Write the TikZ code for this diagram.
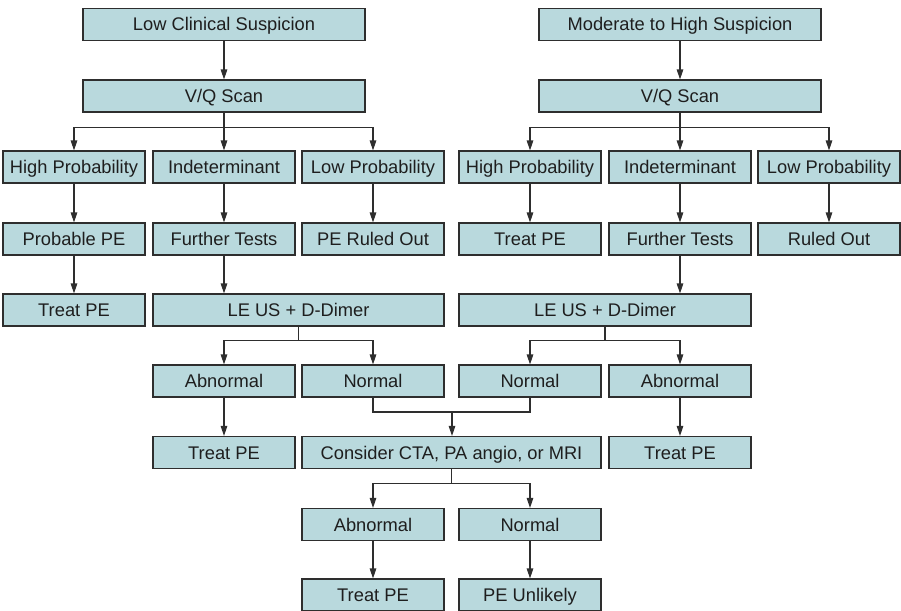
\documentclass[tikz,border=0pt]{standalone}
\usepackage{fontspec}
\setmainfont{Liberation Sans}
\usetikzlibrary{arrows.meta}

\definecolor{boxfill}{HTML}{B9D9DD}
\definecolor{boxline}{HTML}{2E2E2E}
\definecolor{txt}{HTML}{1E1E1E}

\tikzset{
    box/.style={draw=boxline, fill=boxfill, line width=1.1pt, inner sep=0pt,
        minimum height=32pt, minimum width=142pt, text=txt,
        text height=16pt, text depth=3pt,
        font=\fontsize{18.3}{21}\selectfont},
    wbox/.style={box, minimum width=#1},
    arr/.style={draw=boxline, line width=1.1pt, -{Triangle[length=10pt,width=6.5pt]}},
    ln/.style={draw=boxline, line width=1.1pt}
}

\begin{document}
\begin{tikzpicture}[x=1pt, y=-1pt]
        \useasboundingbox (0,0) rectangle (901,610);

        % left tree
        \node[wbox=282pt] (lowsus) at (224,24.5) {Low Clinical Suspicion};
        \node[wbox=282pt] (vqL) at (224,96) {V/Q Scan};
        \node[box] (hpL) at (74,167) {High Probability};
        \node[box] (indL) at (224,167) {Indeterminant};
        \node[box] (lpL) at (373,167) {Low Probability};
        \node[box] (probpe) at (74,239) {Probable PE};
        \node[box] (ftL) at (224,239) {Further Tests};
        \node[box] (roL) at (373,239) {PE Ruled Out};
        \node[box] (treatA) at (74,310) {Treat PE};
        \node[wbox=291pt] (leusL) at (298.5,310) {LE US + D-Dimer};
        \node[box] (abL) at (224,381) {Abnormal};
        \node[box] (nL) at (373,381) {Normal};
        \node[box] (treatB) at (224,452.5) {Treat PE};

        % right tree
        \node[wbox=282pt] (modsus) at (680,24.5) {Moderate to High Suspicion};
        \node[wbox=282pt] (vqR) at (680,96) {V/Q Scan};
        \node[box] (hpR) at (530,167) {High Probability};
        \node[box] (indR) at (680,167) {Indeterminant};
        \node[box] (lpR) at (829,167) {Low Probability};
        \node[box] (treatC) at (530,239) {Treat PE};
        \node[box] (ftR) at (680,239) {Further Tests};
        \node[box] (roR) at (829,239) {Ruled Out};
        \node[wbox=292pt] (leusR) at (605,310) {LE US + D-Dimer};
        \node[box] (nR) at (530,381) {Normal};
        \node[box] (abR) at (680,381) {Abnormal};
        \node[box] (treatD) at (680,452.5) {Treat PE};

        % common end
        \node[wbox=299pt] (cta) at (451.5,452.5) {Consider CTA, PA angio, or MRI};
        \node[box] (abC) at (373,524.5) {Abnormal};
        \node[box] (nC) at (530,524.5) {Normal};
        \node[box] (treatE) at (373,595) {Treat PE};
        \node[box] (unlikely) at (530,595) {PE Unlikely};

        \draw[arr] (lowsus) -- (vqL);
        \draw[arr] (vqL.south) -- ++(0,15) -| (hpL.north);
        \draw[arr] (vqL.south) -- (indL.north);
        \draw[arr] (vqL.south) -- ++(0,15) -| (lpL.north);
        \draw[arr] (hpL) -- (probpe);
        \draw[arr] (indL) -- (ftL);
        \draw[arr] (lpL) -- (roL);
        \draw[arr] (probpe) -- (treatA);
        \draw[arr] (ftL.south) -- (ftL.south |- leusL.north);
        \draw[arr] (leusL.south) -- ++(0,14) -| (abL.north);
        \draw[arr] (leusL.south) -- ++(0,14) -| (nL.north);
        \draw[arr] (abL) -- (treatB);

        \draw[arr] (modsus) -- (vqR);
        \draw[arr] (vqR.south) -- ++(0,15) -| (hpR.north);
        \draw[arr] (vqR.south) -- (indR.north);
        \draw[arr] (vqR.south) -- ++(0,15) -| (lpR.north);
        \draw[arr] (hpR) -- (treatC);
        \draw[arr] (indR) -- (ftR);
        \draw[arr] (lpR) -- (roR);
        \draw[arr] (ftR.south) -- (ftR.south |- leusR.north);
        \draw[arr] (leusR.south) -- ++(0,14) -| (nR.north);
        \draw[arr] (leusR.south) -- ++(0,14) -| (abR.north);
        \draw[arr] (abR) -- (treatD);

        \coordinate (mj) at (452,412);
        \draw[ln] (nL.south) |- (mj) -| (nR.south);
        \draw[arr] (mj) -- (mj |- cta.north);
        \draw[arr] (cta.south) -- ++(0,14) -| (abC.north);
        \draw[arr] (cta.south) -- ++(0,14) -| (nC.north);
        \draw[arr] (abC) -- (treatE);
        \draw[arr] (nC) -- (unlikely);
    \end{tikzpicture}
\end{document}
